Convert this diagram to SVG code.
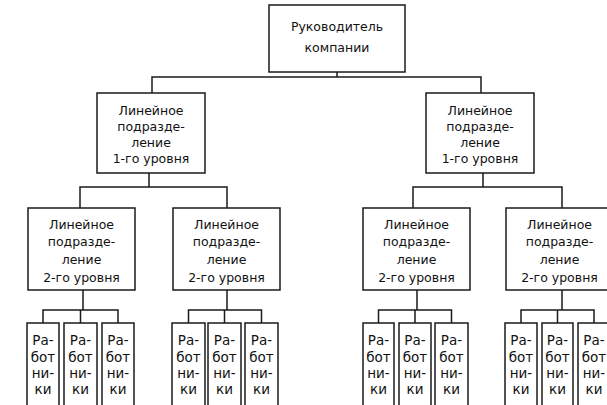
<svg xmlns="http://www.w3.org/2000/svg" width="607" height="405" viewBox="0 0 607 405">
<style>
rect{fill:#fff;stroke:#1a1a1a;stroke-width:1.5}
.c path{fill:none;stroke:#1a1a1a;stroke-width:1.5}
text{font-family:"DejaVu Sans",Verdana,sans-serif;font-size:12.5px;fill:#111;text-anchor:middle}
.w text{font-size:13.5px}
</style>
<rect x="-1" y="-1" width="609" height="407" style="stroke:none"/>
<g class="c">
<path d="M337 72V77M152 93V77H481V93"/>
<path d="M149 173V187M80 208V187H227V208"/>
<path d="M483 173V187M413 208V187H562V208"/>
<path d="M83 290V310M43 323V310H118V323M80.5 310V323"/>
<path d="M227 290V310M188.5 323V310H261.5V323M224.5 310V323"/>
<path d="M417 290V310M378.5 323V310H451.5V323M415 310V323"/>
<path d="M562 290V310M521 323V310H594V323M557.5 310V323"/>
</g>
<g id="ceo"><rect x="269" y="5" width="136" height="67"/><text x="337" y="31">Руководитель</text><text x="337" y="52">компании</text></g>
<g id="l1a"><rect x="97" y="93" width="108" height="80"/><text x="151" y="115">Линейное</text><text x="151" y="131">подразде-</text><text x="151" y="147">ление</text><text x="151" y="163">1-го уровня</text></g>
<g id="l1b"><rect x="426" y="93" width="108" height="80"/><text x="480" y="115">Линейное</text><text x="480" y="131">подразде-</text><text x="480" y="147">ление</text><text x="480" y="163">1-го уровня</text></g>
<g id="l2a"><rect x="28" y="208" width="107" height="82"/><text x="81.5" y="229">Линейное</text><text x="81.5" y="246">подразде-</text><text x="81.5" y="264">ление</text><text x="81.5" y="282">2-го уровня</text></g>
<g id="l2b"><rect x="173" y="208" width="107" height="82"/><text x="226.5" y="229">Линейное</text><text x="226.5" y="246">подразде-</text><text x="226.5" y="264">ление</text><text x="226.5" y="282">2-го уровня</text></g>
<g id="l2c"><rect x="363" y="208" width="107" height="82"/><text x="416.5" y="229">Линейное</text><text x="416.5" y="246">подразде-</text><text x="416.5" y="264">ление</text><text x="416.5" y="282">2-го уровня</text></g>
<g id="l2d"><rect x="506" y="208" width="107" height="82"/><text x="559.5" y="229">Линейное</text><text x="559.5" y="246">подразде-</text><text x="559.5" y="264">ление</text><text x="559.5" y="282">2-го уровня</text></g>
<g class="w">
<g id="w1"><rect x="27" y="323" width="32" height="90"/><text x="43" y="345">Ра-</text><text x="43" y="362">бот</text><text x="43" y="378">ни-</text><text x="43" y="394">ки</text></g>
<g id="w2"><rect x="64" y="323" width="33" height="90"/><text x="80.5" y="345">Ра-</text><text x="80.5" y="362">бот</text><text x="80.5" y="378">ни-</text><text x="80.5" y="394">ки</text></g>
<g id="w3"><rect x="102" y="323" width="32" height="90"/><text x="118" y="345">Ра-</text><text x="118" y="362">бот</text><text x="118" y="378">ни-</text><text x="118" y="394">ки</text></g>
<g id="w4"><rect x="172" y="323" width="33" height="90"/><text x="188.5" y="345">Ра-</text><text x="188.5" y="362">бот</text><text x="188.5" y="378">ни-</text><text x="188.5" y="394">ки</text></g>
<g id="w5"><rect x="208" y="323" width="33" height="90"/><text x="224.5" y="345">Ра-</text><text x="224.5" y="362">бот</text><text x="224.5" y="378">ни-</text><text x="224.5" y="394">ки</text></g>
<g id="w6"><rect x="245" y="323" width="33" height="90"/><text x="261.5" y="345">Ра-</text><text x="261.5" y="362">бот</text><text x="261.5" y="378">ни-</text><text x="261.5" y="394">ки</text></g>
<g id="w7"><rect x="363" y="323" width="31" height="90"/><text x="378.5" y="345">Ра-</text><text x="378.5" y="362">бот</text><text x="378.5" y="378">ни-</text><text x="378.5" y="394">ки</text></g>
<g id="w8"><rect x="399" y="323" width="32" height="90"/><text x="415" y="345">Ра-</text><text x="415" y="362">бот</text><text x="415" y="378">ни-</text><text x="415" y="394">ки</text></g>
<g id="w9"><rect x="435" y="323" width="33" height="90"/><text x="451.5" y="345">Ра-</text><text x="451.5" y="362">бот</text><text x="451.5" y="378">ни-</text><text x="451.5" y="394">ки</text></g>
<g id="w10"><rect x="505" y="323" width="32" height="90"/><text x="521" y="345">Ра-</text><text x="521" y="362">бот</text><text x="521" y="378">ни-</text><text x="521" y="394">ки</text></g>
<g id="w11"><rect x="542" y="323" width="31" height="90"/><text x="557.5" y="345">Ра-</text><text x="557.5" y="362">бот</text><text x="557.5" y="378">ни-</text><text x="557.5" y="394">ки</text></g>
<g id="w12"><rect x="578" y="323" width="32" height="90"/><text x="594" y="345">Ра-</text><text x="594" y="362">бот</text><text x="594" y="378">ни-</text><text x="594" y="394">ки</text></g>
</g>
</svg>
